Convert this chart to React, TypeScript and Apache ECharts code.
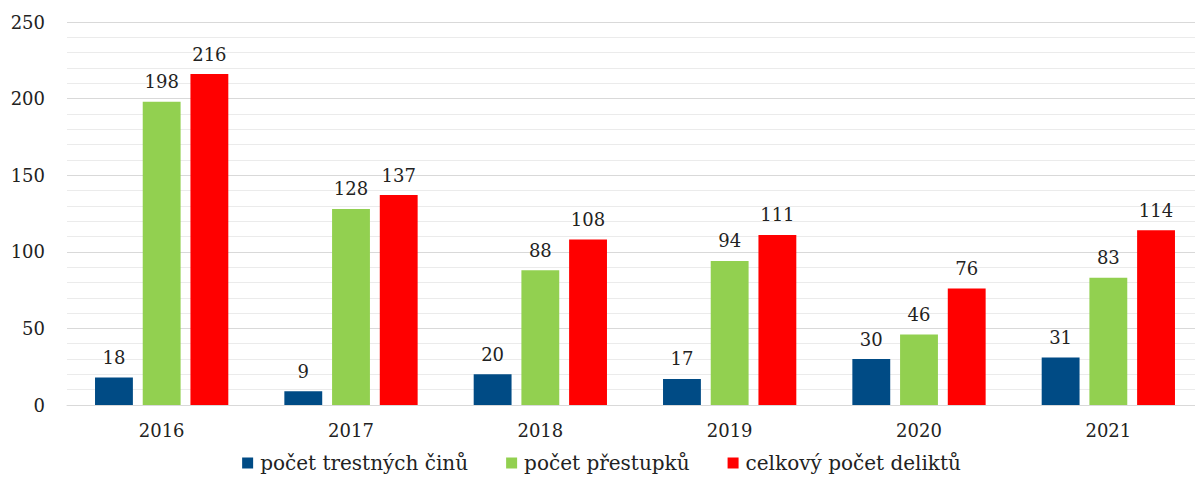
import React, { useEffect, useRef } from "react";
import * as echarts from "echarts";

const years = ["2016", "2017", "2018", "2019", "2020", "2021"];
const trestneCiny = [18, 9, 20, 17, 30, 31];
const prestupky = [198, 128, 88, 94, 46, 83];
const celkem = [216, 137, 108, 111, 76, 114];
const seriesNames = ["počet trestných činů", "počet přestupků", "celkový počet deliktů"];
const colors = ["#004B85", "#92D050", "#FF0000"];

const FONT = "DejaVu Serif";

export default function App() {
  const ref = useRef<HTMLDivElement>(null);
  useEffect(() => {
    if (!ref.current) return;
    const chart = echarts.init(ref.current, undefined, { renderer: "svg" });
    const data = [trestneCiny, prestupky, celkem];
    chart.setOption({
      animation: false,
      textStyle: { fontFamily: FONT },
      grid: { left: 67, right: 0, top: 22, bottom: 78, containLabel: false },
      legend: {
        bottom: 5,
        left: "center",
        itemWidth: 11,
        itemHeight: 11,
        itemGap: 38,
        icon: "rect",
        textStyle: { fontFamily: FONT, fontSize: 20, color: "#222", padding: [0, 0, 0, 2] },
        data: seriesNames,
      },
      xAxis: {
        type: "category",
        data: years,
        axisTick: { show: false },
        axisLine: { lineStyle: { color: "#d9d9d9", width: 1 } },
        axisLabel: { fontFamily: FONT, fontSize: 18, color: "#222", margin: 16 },
      },
      yAxis: {
        type: "value",
        min: 0,
        max: 250,
        interval: 50,
        axisLine: { show: false },
        axisTick: { show: false },
        axisLabel: { fontFamily: FONT, fontSize: 18, color: "#222", margin: 22 },
        splitLine: { lineStyle: { color: "#d9d9d9", width: 1 } },
        minorTick: { show: false, splitNumber: 5 },
        minorSplitLine: { show: true, lineStyle: { color: "#ebebeb", width: 1 } },
      },
      series: seriesNames.map((name, i) => ({
        name,
        type: "bar",
        data: data[i],
        barWidth: "20%",
        barGap: "26%",
        itemStyle: { color: colors[i] },
        label: {
          show: true,
          position: "top",
          distance: 11,
          fontFamily: FONT,
          fontSize: 18,
          color: "#222",
        },
      })),
    });
    return () => chart.dispose();
  }, []);
  return <div ref={ref} style={{ width: 1203, height: 483, margin: -8 }} />;
}
